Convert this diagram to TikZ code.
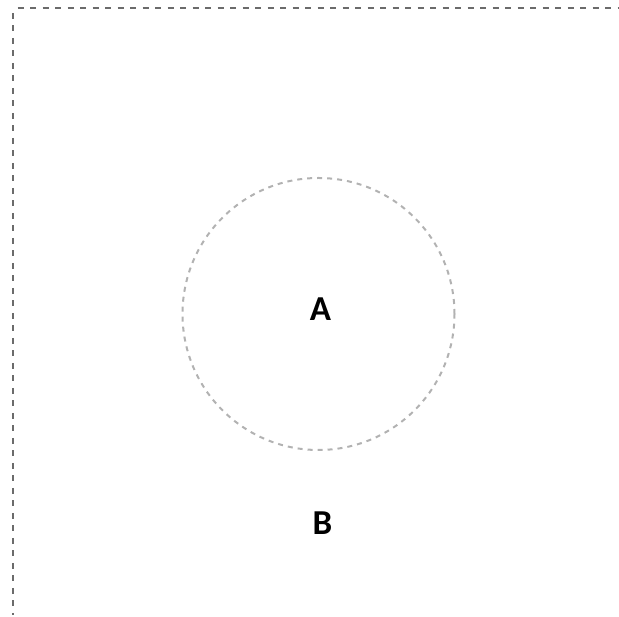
\documentclass[tikz,border=0pt]{standalone}
\usepackage{fontspec}
\setmainfont{Carlito}
\begin{document}
\begin{tikzpicture}[x=1pt,y=1pt,
  outer/.style={draw=black!58,line width=2pt,dash pattern=on 6pt off 6.5pt},
  ring/.style={draw=black!30,line width=2pt,dash pattern=on 5pt off 5pt},
  lbl/.style={font=\fontsize{35}{38}\selectfont\bfseries,text=black}]
\useasboundingbox (0,0) rectangle (619,617);
\coordinate (tl) at (12.5,609);
\coordinate (tr) at (619,609);
\coordinate (bl) at (12.5,2);
\draw[outer] (tl) ++(5,0) -- (tr);
\draw[outer] (tl) ++(0,-5) -- (bl);
\node[ring,circle,minimum size=272pt,inner sep=0pt] (c) at (318.5,303) {};
\node[lbl] (a) at (320.5,308) {A};
\node[lbl] (b) at (322.5,93.5) {B};
\end{tikzpicture}
\end{document}
